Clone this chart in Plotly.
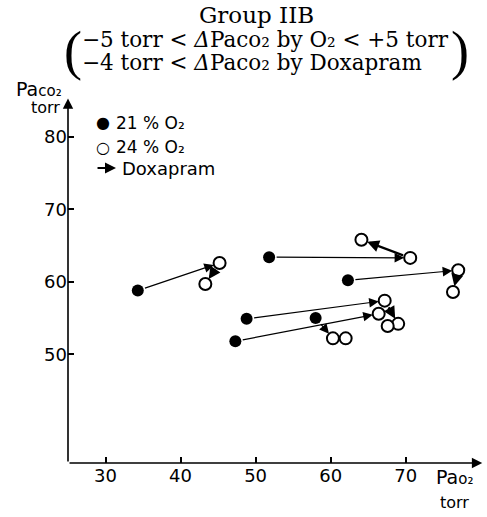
import plotly.graph_objects as go

# ---- data ----
pao2_21 = [34.3, 51.8, 62.3, 48.8, 47.3, 58.0]
paco2_21 = [58.8, 63.4, 60.2, 54.9, 51.8, 55.0]
pao2_24 = [45.2, 70.6, 77.0, 67.2, 66.4, 60.3]
paco2_24 = [62.6, 63.3, 61.6, 57.4, 55.6, 52.2]
pao2_dox = [43.3, 64.1, 76.3, 69.0, 67.6, 62.0]
paco2_dox = [59.7, 65.8, 58.6, 54.2, 53.9, 52.2]
x_ticks = [30, 40, 50, 60, 70]
y_ticks = [50, 60, 70, 80]

# ---- layout geometry ----
W, H = 487, 517
L, R, T, B = 68, 4.25, 97, 54
XR = [25, 80.3]
YR = [35, 85.5]
pw = W - L - R
ph = H - T - B


def px(x):
    return (x - L) / pw


def py(y):
    return (H - B - y) / ph


SANS = "DejaVu Sans"
SERIF = "DejaVu Serif"

fig = go.Figure()

anns = []
# arrows: 21% -> 24% (thin), 24% -> doxapram (thick)
xs = pw / (XR[1] - XR[0])
ys = ph / (YR[1] - YR[0])
for i in range(len(pao2_21)):
    anns.append(dict(x=pao2_24[i], y=paco2_24[i], ax=pao2_21[i], ay=paco2_21[i],
                     xref="x", yref="y", axref="x", ayref="y", text="",
                     showarrow=True, arrowhead=2, arrowsize=1.6, arrowwidth=1.2,
                     arrowcolor="black", standoff=6, startstandoff=6))
    d = (((pao2_dox[i] - pao2_24[i]) * xs) ** 2 + ((paco2_dox[i] - paco2_24[i]) * ys) ** 2) ** 0.5
    if d > 16:
        anns.append(dict(x=pao2_dox[i], y=paco2_dox[i], ax=pao2_24[i], ay=paco2_24[i],
                         xref="x", yref="y", axref="x", ayref="y", text="",
                         showarrow=True, arrowhead=2, arrowsize=1.0, arrowwidth=2.4,
                         arrowcolor="black", standoff=6, startstandoff=6))

fig.add_trace(go.Scatter(x=pao2_21, y=paco2_21, mode="markers", showlegend=False,
                         marker=dict(size=12, color="black", line=dict(width=0))))
fig.add_trace(go.Scatter(x=pao2_24 + pao2_dox, y=paco2_24 + paco2_dox, mode="markers",
                         showlegend=False,
                         marker=dict(size=12, color="white", line=dict(width=2, color="black"))))

# axis arrows
anns.append(dict(x=80.2, y=35, ax=25, ay=35, xref="x", yref="y", axref="x", ayref="y",
                 text="", showarrow=True, arrowhead=2, arrowsize=1.3, arrowwidth=1.6,
                 arrowcolor="black"))
anns.append(dict(x=25, y=85.3, ax=25, ay=35, xref="x", yref="y", axref="x", ayref="y",
                 text="", showarrow=True, arrowhead=2, arrowsize=1.3, arrowwidth=1.6,
                 arrowcolor="black"))


def txt(s, x, y, size, family=SANS, xa="left"):
    anns.append(dict(text=s, x=px(x), y=py(y), xref="paper", yref="paper",
                     xanchor=xa, yanchor="middle", showarrow=False,
                     font=dict(family=family, size=size, color="black")))


# title
txt("Group IIB", 256, 15, 23, SERIF, "center")
txt("−5 torr &lt; <i>Δ</i>Paco₂ by O₂ &lt; +5 torr", 80, 40, 21.5, SERIF)
txt("−4 torr &lt; <i>Δ</i>Paco₂ by Doxapram", 80, 63, 21.5, SERIF)
txt("(", 73, 51, 54, "Liberation Serif", "center")
txt(")", 460, 51, 54, "Liberation Serif", "center")

# legend
txt("●", 103, 123, 16, SANS, "center")
txt("21 % O₂", 114, 123, 17)
txt("○", 103, 147, 16, SANS, "center")
txt("24 % O₂", 114, 147, 17)
anns.append(dict(x=px(116), y=py(168), ax=-20, ay=0, xref="paper", yref="paper",
                 axref="pixel", ayref="pixel", text="", showarrow=True,
                 arrowhead=2, arrowsize=1.0, arrowwidth=2.2, arrowcolor="black"))
txt("Doxapram", 120, 168, 18)

# axis titles
txt("Pa<span style='font-size:15px'>co₂</span>", 64, 89, 19, SANS, "right")
txt("torr", 62, 107, 16, SANS, "right")
txt("Pa<span style='font-size:15px'>o₂</span>", 434, 477, 19)
txt("torr", 438, 503, 16)

fig.update_layout(
    width=W, height=H,
    margin=dict(l=L, r=R, t=T, b=B, pad=0, autoexpand=False),
    paper_bgcolor="white", plot_bgcolor="white",
    annotations=anns,
    xaxis=dict(range=XR, tickvals=x_ticks, ticks="inside", ticklen=6, tickwidth=1.5,
               tickcolor="black", showgrid=False, zeroline=False, showline=False,
               automargin=False,
               tickfont=dict(family=SANS, size=18, color="black")),
    yaxis=dict(range=YR, tickvals=y_ticks, ticks="inside", ticklen=6, tickwidth=1.5,
               tickcolor="black", showgrid=False, zeroline=False, showline=False,
               automargin=False,
               tickfont=dict(family=SANS, size=18, color="black")),
)

fig.write_html("out.html", config={"displayModeBar": False},
               post_script="document.body.style.margin='0';")
